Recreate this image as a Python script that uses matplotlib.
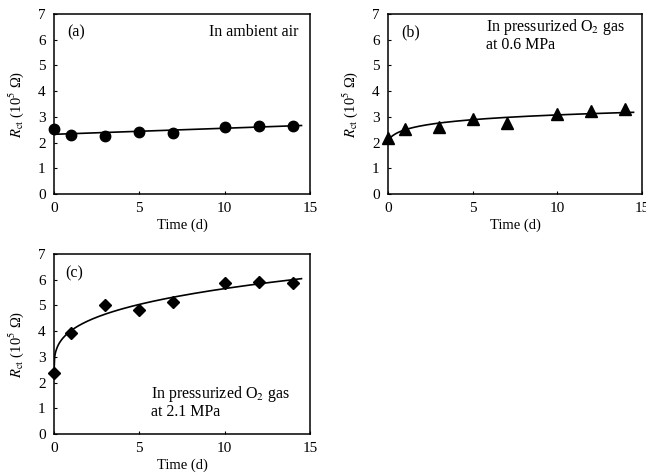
import numpy as np
import matplotlib
matplotlib.use("Agg")
import matplotlib.pyplot as plt

plt.rcParams["font.family"] = ["Liberation Serif", "DejaVu Serif"]
plt.rcParams["mathtext.fontset"] = "stix"
plt.rcParams["font.size"] = 10

#
# Charge-transfer resistance (10^5 ohm) vs. exposure time (days)
#
time_d = [0, 1, 3, 5, 7, 10, 12, 14]
rct_air = [2.53, 2.29, 2.26, 2.40, 2.38, 2.62, 2.66, 2.66]
rct_o2_06 = [2.16, 2.51, 2.61, 2.91, 2.77, 3.10, 3.23, 3.29]
rct_o2_21 = [2.38, 3.92, 5.00, 4.81, 5.15, 5.86, 5.91, 5.89]

panel_tags = ["(a)", "(b)", "(c)"]
cond_labels = ["In ambient air",
               "In pressurized O$_2$ gas\nat 0.6 MPa",
               "In pressurized O$_2$ gas\nat 2.1 MPa"]


def fit_curve(x, y, kind):
    # least-squares fit of y = a + b*g(x), shape parameter picked from a grid
    x = np.asarray(x, float)
    y = np.asarray(y, float)
    if kind == "lin":
        grid, g = [1.0], lambda t, p: t
    elif kind == "log":
        grid, g = np.linspace(0.1, 0.3, 21), lambda t, c: np.log(t + c)
    else:
        grid, g = np.linspace(0.05, 1.0, 96), lambda t, p: t ** p
    best = None
    for p in grid:
        A = np.vstack([np.ones_like(x), g(x, p)]).T
        coef, *_ = np.linalg.lstsq(A, y, rcond=None)
        err = np.sum((A @ coef - y) ** 2)
        if best is None or err < best[0]:
            best = (err, p, coef)
    _, p, (a, b) = best
    return lambda t: a + b * g(t, p)


fig = plt.figure(figsize=(6.46, 4.76), dpi=100)
axes = [fig.add_axes([0.0836, 0.5924, 0.3963, 0.3782]),
        fig.add_axes([0.6006, 0.5924, 0.3932, 0.3782]),
        fig.add_axes([0.0836, 0.0882, 0.3963, 0.3782])]

series = [(rct_air, "o", 7.5, "lin"),
          (rct_o2_06, "^", 8.5, "log"),
          (rct_o2_21, "D", 6.5, "pow")]

xs = np.linspace(0, 14.5, 400)
for ax, (y, mk, ms, kind) in zip(axes, series):
    f = fit_curve(time_d, y, kind)
    ax.plot(xs, f(xs), c="k", lw=1.2, zorder=2)
    ax.plot(time_d, y, mk, c="k", ms=ms, zorder=3, clip_on=False)
    ax.set_xlim(0, 15)
    ax.set_ylim(0, 7)
    ax.set_xticks([0, 5, 10, 15])
    ax.set_yticks(range(8))
    ax.tick_params(direction="in", length=2.5, width=0.8, labelsize=11, pad=6)
    for s in ax.spines.values():
        s.set_linewidth(1.1)
    ax.set_xlabel("Time (d)", fontsize=10.5, labelpad=2)
    ax.set_ylabel(r"$R_{\mathrm{ct}}$ (10$^5$ Ω)", fontsize=10.5, labelpad=9)

axes[0].text(0.8, 6.3, panel_tags[0], fontsize=11.5, va="center")
axes[0].text(14.3, 6.3, cond_labels[0], fontsize=11.5, va="center", ha="right")
axes[1].text(0.8, 6.3, panel_tags[1], fontsize=11.5, va="center")
axes[1].text(5.8, 6.2, cond_labels[1], fontsize=11.5, va="center",
             linespacing=1.0)
axes[2].text(0.65, 6.25, panel_tags[2], fontsize=11.5, va="center")
axes[2].text(5.7, 1.25, cond_labels[2], fontsize=11.5, va="center",
             linespacing=1.0)

plt.savefig("out.png", dpi=100)
